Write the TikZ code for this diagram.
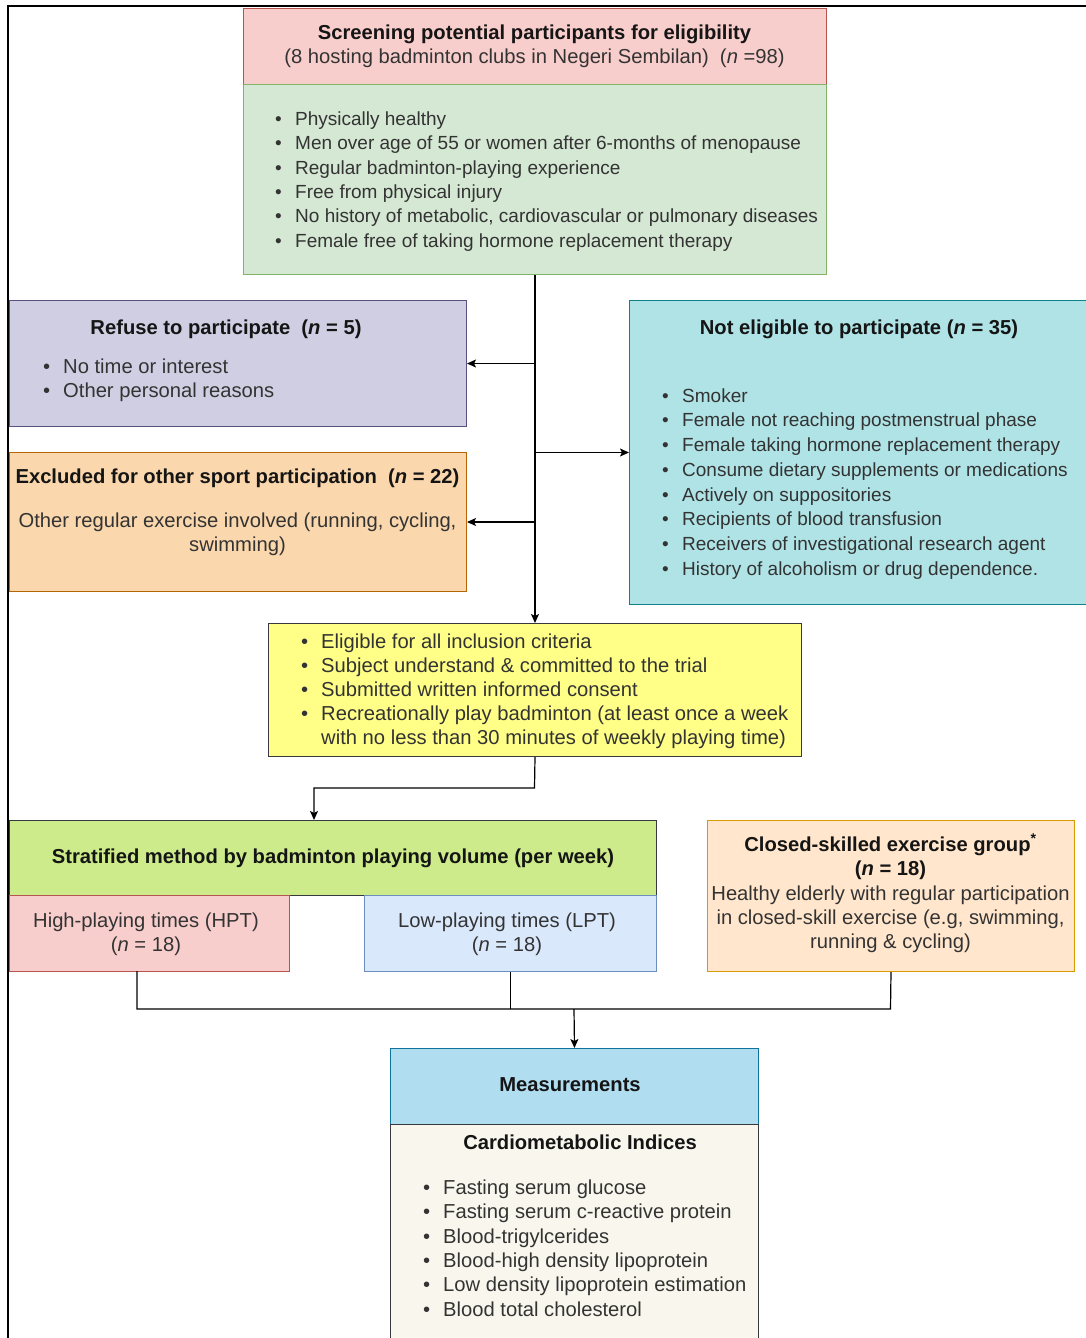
\documentclass[tikz,border=0pt]{standalone}
\usepackage{fontspec}
\setmainfont{Liberation Sans}
\usetikzlibrary{arrows.meta}
\definecolor{tg}{HTML}{333333}
\definecolor{tb}{HTML}{151515}
\definecolor{pinkF}{HTML}{F8CECC}\definecolor{pinkD}{HTML}{B85450}
\definecolor{greenF}{HTML}{D5E8D4}\definecolor{greenD}{HTML}{82B366}
\definecolor{purpF}{HTML}{D0CEE2}\definecolor{purpD}{HTML}{56517E}
\definecolor{orF}{HTML}{FAD7AC}\definecolor{orD}{HTML}{B46504}
\definecolor{tealF}{HTML}{B0E3E6}\definecolor{tealD}{HTML}{0E8088}
\definecolor{yelF}{HTML}{FFFF88}\definecolor{darkD}{HTML}{36393D}
\definecolor{limeF}{HTML}{CDEB8B}
\definecolor{blueF}{HTML}{DAE8FC}\definecolor{blueD}{HTML}{6C8EBF}
\definecolor{peachF}{HTML}{FFE6CC}\definecolor{peachD}{HTML}{D79B00}
\definecolor{skyF}{HTML}{B1DDF0}\definecolor{skyD}{HTML}{10739E}
\definecolor{creamF}{HTML}{F9F7ED}
\newcommand{\tstrut}{\rule{0pt}{18pt}}
\newcommand{\bli}[1]{\makebox[20pt][l]{•}#1}
\newcommand{\bsp}{\makebox[20pt][l]{}}
\begin{document}
\begin{tikzpicture}[x=1pt,y=-1pt,
  box/.style={rectangle, line width=1pt, inner sep=0pt, anchor=north west},
  txt/.style={inner sep=0pt, font=\fontsize{20.2}{24.4}\selectfont, text=tg},
  btxt/.style={inner sep=0pt, font=\fontsize{20.2}{24.4}\selectfont\bfseries, text=tb},
  lst/.style={txt, align=left, anchor=north west},
  ctr/.style={txt, align=center, anchor=north},
  conn/.style={line width=1.2pt, draw=black},
  arr/.style={conn, -{Stealth[length=9pt,width=8pt,inset=2pt]}}]
\useasboundingbox (0,0) rectangle (1086,1338);
% frame
\draw[line width=2pt, black] (8,1338) -- (8,6) -- (1086,6);

% boxes
\node[box, fill=pinkF, draw=pinkD, minimum width=583, minimum height=76] (scr) at (243,8) {};
\node[box, fill=greenF, draw=greenD, minimum width=583, minimum height=190] (grn) at (243,84) {};
\node[box, fill=purpF, draw=purpD, minimum width=457, minimum height=126] (ref) at (9,300) {};
\node[box, fill=orF, draw=orD, minimum width=457, minimum height=139] (exc) at (9,452) {};
\node[box, fill=tealF, draw=tealD, minimum width=470, minimum height=304] (nel) at (629,300) {};
\node[box, fill=yelF, draw=darkD, minimum width=533, minimum height=133] (yel) at (268,623) {};
\node[box, fill=limeF, draw=darkD, minimum width=647, minimum height=75] (str) at (9,820) {};
\node[box, fill=pinkF, draw=pinkD, minimum width=280, minimum height=76] (hpt) at (9,895) {};
\node[box, fill=blueF, draw=blueD, minimum width=292, minimum height=76] (lpt) at (364,895) {};
\node[box, fill=peachF, draw=peachD, minimum width=367, minimum height=151] (cls) at (707,820) {};
\node[box, fill=skyF, draw=skyD, minimum width=368, minimum height=76] (mea) at (390,1048) {};
\node[box, fill=creamF, draw=darkD, minimum width=368, minimum height=230] (car) at (390,1124) {};

% texts
\node[ctr] (scrT) at (534.5,21) {\bfseries\color{tb}\tstrut Screening potential participants for eligibility\\(8 hosting badminton clubs in Negeri Sembilan)\ \ (\textit{n} =98)};
\node[lst, font=\fontsize{19}{24.4}\selectfont] (grnT) at (275,107) {\tstrut\bli{Physically healthy}\\\bli{Men over age of 55 or women after 6-months of menopause}\\\bli{Regular badminton-playing experience}\\\bli{Free from physical injury}\\\bli{No history of metabolic, cardiovascular or pulmonary diseases}\\\bli{Female free of taking hormone replacement therapy}};

\node[btxt, anchor=base] (refT) at (226,334) {Refuse to participate\ \ (\textit{n} = 5)};
\node[lst] (refL) at (43,355) {\tstrut\bli{No time or interest}\\\bli{Other personal reasons}};

\node[btxt, anchor=base] (excT) at (237.5,483) {Excluded for other sport participation\ \ (\textit{n} = 22)};
\node[ctr] (excL) at (237.5,509) {\tstrut Other regular exercise involved (running, cycling,\\swimming)};

\node[btxt, anchor=base] (nelT) at (859,334) {Not eligible to participate (\textit{n} = 35)};
\node[lst, font=\fontsize{19}{24.7}\selectfont] (nelL) at (662,384) {\tstrut\bli{Smoker}\\\bli{Female not reaching postmenstrual phase}\\\bli{Female taking hormone replacement therapy}\\\bli{Consume dietary supplements or medications}\\\bli{Actively on suppositories}\\\bli{Recipients of blood transfusion}\\\bli{Receivers of investigational research agent}\\\bli{History of alcoholism or drug dependence.}};

\node[lst, font=\fontsize{20.2}{24}\selectfont] (yelL) at (301,630) {\tstrut\bli{Eligible for all inclusion criteria}\\\bli{Subject understand \& committed to the trial}\\\bli{Submitted written informed consent}\\\bli{Recreationally play badminton (at least once a week}\\\bsp with no less than 30 minutes of weekly playing time)};

\node[btxt, anchor=base] (strT) at (333,863) {Stratified method by badminton playing volume (per week)};
\node[ctr] (hptT) at (146,909) {\tstrut High-playing times (HPT)\\(\textit{n} = 18)};
\node[ctr] (lptT) at (507,909) {\tstrut Low-playing times (LPT)\\(\textit{n} = 18)};

\node[ctr] (clsT) at (890.5,833) {\bfseries\color{tb}\tstrut Closed-skilled exercise group\textsuperscript{*}\\\bfseries\color{tb}(\textit{n} = 18)\\Healthy elderly with regular participation\\in closed-skill exercise (e.g, swimming,\\running \& cycling)};

\node[btxt, anchor=base] (meaT) at (570,1091) {Measurements};
\node[btxt, anchor=base] (carT) at (580,1149) {Cardiometabolic Indices};
\node[lst] (carL) at (423,1176) {\tstrut\bli{Fasting serum glucose}\\\bli{Fasting serum c-reactive protein}\\\bli{Blood-trigylcerides}\\\bli{Blood-high density lipoprotein}\\\bli{Low density lipoprotein estimation}\\\bli{Blood total cholesterol}};

% connectors
\coordinate (bend) at (534.5,788);
\coordinate (strIn) at (314,820);
\coordinate (hptOut) at (137,971);
\coordinate (busL) at (137,1009);
\coordinate (busR) at (890.5,1009);
\coordinate (busM) at (574,1009);
\draw[arr] (grn.south) -- (yel.north);
\draw[arr] (grn.south |- ref.east) -- (ref.east);
\draw[arr] (grn.south |- nel.west) -- (nel.west);
\draw[arr] (grn.south |- exc.east) -- (exc.east);
\draw[arr] (yel.south) -- (bend) -| (strIn);
\draw[conn] (hptOut) -- (busL) -- (busR) -- (cls.south);
\draw[conn] (lpt.south) -- (lpt.south |- busL);
\draw[arr] (busM) -- (mea.north);
\end{tikzpicture}
\end{document}
